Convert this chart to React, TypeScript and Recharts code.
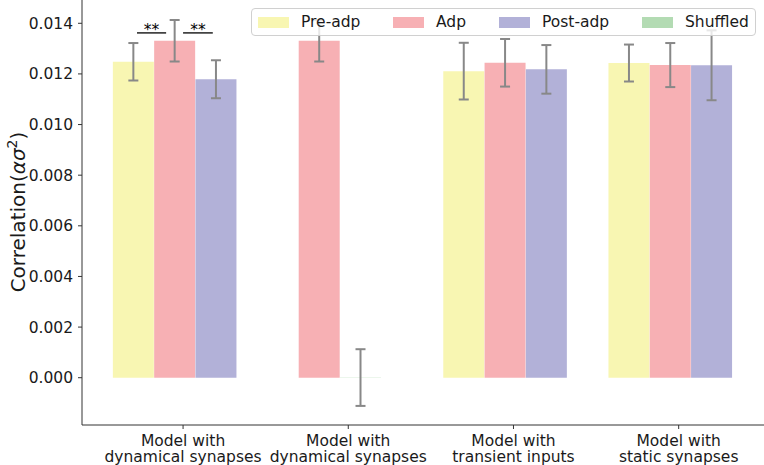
import React from "react";
import {
  Bar,
  BarChart,
  Cell,
  ErrorBar,
  ReferenceLine,
  XAxis,
  YAxis,
} from "recharts";

const categories = [
  ["Model with", "dynamical synapses"],
  ["Model with", "dynamical synapses"],
  ["Model with", "transient inputs"],
  ["Model with", "static synapses"],
];

const seriesNames = ["Pre-adp", "Adp", "Post-adp", "Shuffled"];
const seriesColors = ["#f8f6b2", "#f7b0b4", "#b2b1d8", "#b3dbb3"];

const preAdp = [0.01248, null, 0.01211, 0.01243];
const preAdpErr = [0.00074, null, 0.00112, 0.00073];
const adp = [0.01331, 0.01331, 0.01244, 0.01235];
const adpErr = [0.00082, 0.00082, 0.00094, 0.00087];
const postAdp = [0.01179, null, 0.01218, 0.01234];
const postAdpErr = [0.00075, null, 0.00096, 0.00138];
const shuffled = [null, 0.000006, null, null];
const shuffledErr = [null, 0.00112, null, null];

const yTicks = [0, 0.002, 0.004, 0.006, 0.008, 0.01, 0.012, 0.014];

const FONT = "'DejaVu Sans', sans-serif";
const FS = 15.5;

// one row per drawn bar; present bars in a group sit side by side around its centre
const values = [preAdp, adp, postAdp, shuffled];
const errors = [preAdpErr, adpErr, postAdpErr, shuffledErr];
const rows: { x: number; value: number; err: number; color: string }[] = [];
categories.forEach((_, g) => {
  const present = values
    .map((arr, s) => (arr[g] == null ? -1 : s))
    .filter((s) => s >= 0);
  present.forEach((s, k) => {
    rows.push({
      x: g * 4 + 1 + (k - (present.length - 1) / 2),
      value: values[s][g] as number,
      err: errors[s][g] as number,
      color: seriesColors[s],
    });
  });
});

const groupTicks = categories.map((_, g) => g * 4 + 1.2);

function CategoryTick(props: any) {
  const { x, y, payload } = props;
  const idx = Math.round((payload.value - 1.2) / 4);
  const lines = categories[idx] || [];
  return (
    <g>
      {lines.map((l, i) => (
        <text
          key={i}
          x={x}
          y={y + 14.5 + i * 16.5}
          textAnchor="middle"
          fontSize={FS}
          fontFamily={FONT}
          fill="#1a1a1a"
        >
          {l}
        </text>
      ))}
    </g>
  );
}

function YLabel() {
  return (
    <text
      transform="translate(25,212) rotate(-90)"
      textAnchor="middle"
      fontSize={20}
      fontFamily={FONT}
      fill="#1a1a1a"
    >
      Correlation(
      <tspan fontStyle="italic">ασ</tspan>
      <tspan fontSize={14} dy={-8}>
        2
      </tspan>
      <tspan dy={8}>)</tspan>
    </text>
  );
}

function Stars(props: any) {
  const { viewBox } = props;
  return (
    <text
      x={viewBox.x + viewBox.width / 2}
      y={viewBox.y + 2}
      textAnchor="middle"
      fontSize={FS}
      fontFamily={FONT}
      fill="#000"
    >
      **
    </text>
  );
}

function LegendBox() {
  const lefts = [6, 141, 247, 390];
  return (
    <div
      style={{
        position: "absolute",
        left: 251,
        top: 8,
        width: 505,
        height: 28,
        border: "1px solid #d0d0d0",
        borderRadius: 4,
        background: "rgba(255,255,255,0.8)",
        fontFamily: FONT,
        fontSize: FS,
        color: "#1a1a1a",
        boxSizing: "border-box",
      }}
    >
      {seriesNames.map((n, i) => (
        <div
          key={n}
          style={{ position: "absolute", left: lefts[i], top: 0, height: 26, display: "flex", alignItems: "center" }}
        >
          <span
            style={{ display: "inline-block", width: 31, height: 11, background: seriesColors[i], marginRight: 12 }}
          />
          <span>{n}</span>
        </div>
      ))}
    </div>
  );
}

export default function App() {
  return (
    <div style={{ position: "relative", width: 764, height: 465, overflow: "hidden", background: "#fff" }}>
      <style>{`body{margin:0}`}</style>
      <BarChart
        width={764}
        height={465}
        data={rows}
        margin={{ top: 0, right: 0, bottom: 0, left: 0 }}
        barCategoryGap={0}
      >
        <XAxis
          dataKey="x"
          type="number"
          domain={[-1.247, 15.266]}
          ticks={groupTicks}
          tick={<CategoryTick />}
          height={40}
          stroke="#333"
          tickSize={4}
          interval={0}
          allowDataOverflow
        />
        <YAxis
          type="number"
          domain={[-0.001868, 0.01492]}
          ticks={yTicks}
          width={82}
          stroke="#333"
          tickSize={4}
          tickMargin={5}
          tick={{ fontSize: FS, fontFamily: FONT, fill: "#1a1a1a" }}
          tickFormatter={(v) => Number(v).toFixed(3)}
          allowDataOverflow
          label={<YLabel />}
        />
        <Bar dataKey="value" barSize={41} isAnimationActive={false}>
          {rows.map((r, i) => (
            <Cell key={i} fill={r.color} />
          ))}
          <ErrorBar dataKey="err" stroke="#888" strokeWidth={2} width={5} direction="y" />
        </Bar>
        <ReferenceLine
          segment={[
            { x: 0.085, y: 0.01362 },
            { x: 0.79, y: 0.01362 },
          ]}
          stroke="#000"
          strokeWidth={1.3}
          ifOverflow="visible"
          label={<Stars />}
        />
        <ReferenceLine
          segment={[
            { x: 1.2, y: 0.01362 },
            { x: 1.92, y: 0.01362 },
          ]}
          stroke="#000"
          strokeWidth={1.3}
          ifOverflow="visible"
          label={<Stars />}
        />
      </BarChart>
      <LegendBox />
    </div>
  );
}
